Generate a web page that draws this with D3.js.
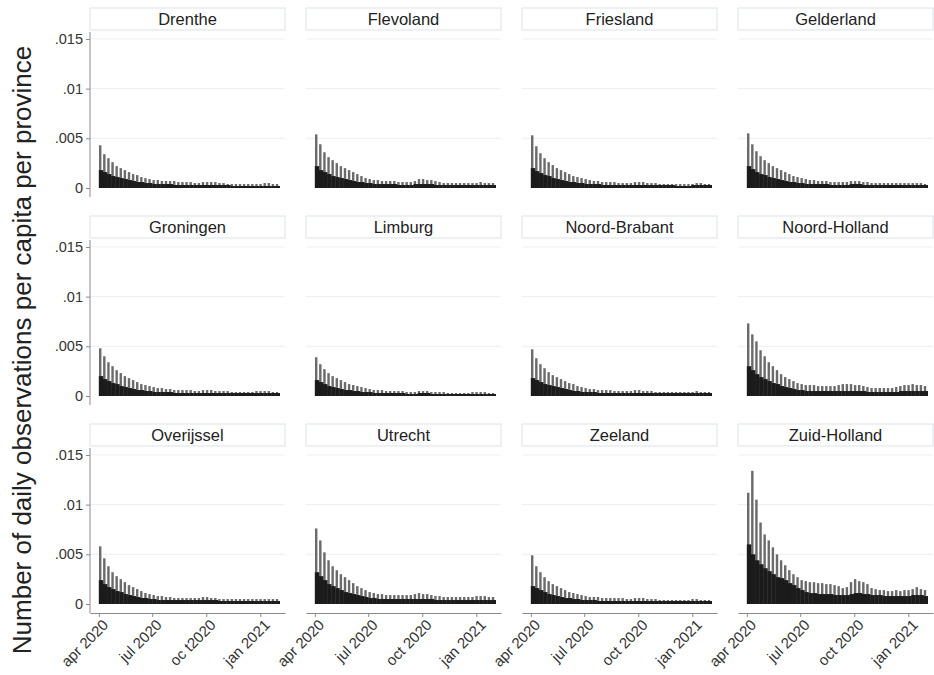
<!DOCTYPE html>
<html>
<head>
<meta charset="utf-8">
<script src="https://cdn.jsdelivr.net/npm/d3@7"></script>
<style>
  body { margin: 0; background: #fff; }
  text { font-family: "Liberation Sans", Arial, sans-serif; }
</style>
</head>
<body>
<script>
// weekly values, in observations per 10,000 inhabitants
// peak = highest day of the week (the thin spikes), base = usual day level (dark area)
const provinces = ["Drenthe", "Flevoland", "Friesland", "Gelderland",
                   "Groningen", "Limburg", "Noord-Brabant", "Noord-Holland",
                   "Overijssel", "Utrecht", "Zeeland", "Zuid-Holland"];

const firstWeek = "2020-04-01";

const drenthePeak = [43,34,30,26,22,20,18,16,14,13,11,10,9,8,8,7,7,7,7,6,6,6,6,5,5,6,6,6,6,5,5,4,4,4,4,4,4,4,4,4,5,5,4,4];
const drentheBase = [18,16,14,12,11,10,9,8,7,6,6,5,5,4,4,4,4,4,3,3,3,3,3,3,3,3,3,3,3,3,3,3,2,2,2,2,2,2,2,2,2,2,2,2];

const flevolandPeak = [54,44,36,31,28,25,22,20,18,16,14,12,10,9,8,8,7,7,7,7,6,6,6,6,7,9,9,8,8,7,6,5,5,5,5,5,5,5,5,5,6,5,5,5];
const flevolandBase = [22,18,16,14,12,11,10,9,8,7,6,6,5,5,4,4,4,4,4,4,3,3,3,3,4,4,4,4,4,3,3,3,3,3,3,3,3,3,3,3,3,3,3,3];

const frieslandPeak = [53,42,35,30,26,23,20,18,16,14,12,11,10,9,8,7,7,6,6,6,6,5,5,5,5,6,6,6,5,5,5,4,4,4,4,4,4,4,4,4,5,5,4,4];
const frieslandBase = [20,17,15,13,12,10,9,8,7,6,6,5,5,4,4,4,4,3,3,3,3,3,3,3,3,3,3,3,3,3,3,3,3,3,3,2,2,2,2,3,3,3,3,3];

const gelderlandPeak = [55,44,37,32,28,25,22,20,18,16,14,12,11,10,9,8,8,7,7,7,6,6,6,6,6,7,7,7,6,6,5,5,5,5,5,5,5,5,5,5,5,5,5,4];
const gelderlandBase = [22,19,16,14,13,11,10,9,8,7,6,6,5,5,4,4,4,4,4,4,3,3,3,3,3,4,4,4,3,3,3,3,3,3,3,3,3,3,3,3,3,3,3,3];

const groningenPeak = [48,40,34,30,26,23,20,18,16,14,12,11,10,9,8,8,7,7,6,6,6,6,6,5,5,6,6,6,5,5,5,5,4,4,4,4,4,4,5,5,5,5,4,4];
const groningenBase = [20,17,15,13,12,10,9,8,7,6,6,5,5,4,4,4,4,4,3,3,3,3,3,3,3,3,3,3,3,3,3,3,3,3,3,3,3,3,3,3,3,3,3,3];

const limburgPeak = [39,32,27,23,20,18,16,14,12,11,10,9,8,7,6,6,6,5,5,5,5,5,4,4,4,5,5,5,4,4,4,4,3,3,3,3,3,3,4,4,4,4,3,3];
const limburgBase = [16,14,12,10,9,8,7,6,6,5,5,4,4,4,3,3,3,3,3,3,3,3,2,2,2,3,3,3,2,2,2,2,2,2,2,2,2,2,2,2,2,2,2,2];

const noordBrabantPeak = [47,38,32,28,24,21,19,17,15,13,12,10,9,8,7,7,6,6,6,6,5,5,5,5,5,6,6,5,5,5,4,4,4,4,4,4,4,4,4,4,5,4,4,4];
const noordBrabantBase = [18,16,14,12,11,10,9,8,7,6,5,5,4,4,4,4,3,3,3,3,3,3,3,3,3,3,3,3,3,3,3,3,3,3,3,3,3,3,3,3,3,3,3,3];

const noordHollandPeak = [73,62,55,46,40,34,30,26,22,19,17,15,13,12,11,11,11,10,10,10,10,10,11,12,12,12,11,11,10,9,8,8,8,8,8,8,9,10,11,11,12,11,11,10];
const noordHollandBase = [30,26,22,19,17,15,13,12,10,9,8,7,6,6,5,5,5,5,5,5,5,5,5,5,5,5,5,5,5,4,4,4,4,4,4,4,4,5,5,5,5,5,5,5];

const overijsselPeak = [58,46,38,32,28,25,22,19,17,15,13,11,10,9,8,8,7,7,6,6,6,6,6,6,6,7,7,6,6,5,5,5,5,5,5,5,5,5,5,5,5,5,5,5];
const overijsselBase = [24,20,17,15,13,12,10,9,8,7,6,6,5,5,4,4,4,4,4,4,4,4,4,4,4,4,4,4,4,3,3,3,3,3,3,3,3,3,3,3,3,3,3,3];

const utrechtPeak = [76,64,52,44,38,34,30,27,24,21,18,16,14,12,11,10,10,9,9,9,9,9,9,9,10,11,10,10,9,8,8,7,7,7,7,7,7,7,7,8,8,8,7,7];
const utrechtBase = [32,28,24,20,18,16,14,12,11,10,9,8,7,6,6,5,5,5,5,5,5,5,5,5,5,5,5,5,5,4,4,4,4,4,4,4,4,4,4,4,4,4,4,4];

const zeelandPeak = [49,38,32,27,23,20,18,16,14,12,11,10,9,8,7,7,7,6,6,6,6,6,6,5,5,6,6,6,5,5,5,4,4,4,4,4,4,4,4,5,5,4,4,4];
const zeelandBase = [18,16,14,12,10,9,8,7,6,6,5,5,4,4,4,4,3,3,3,3,3,3,3,3,3,3,3,3,3,3,3,3,3,3,3,3,3,3,3,3,3,3,3,3];

const zuidHollandPeak = [112,134,105,82,70,64,57,50,44,39,34,30,27,24,23,22,22,21,21,20,20,19,18,16,17,22,25,23,22,20,16,15,14,14,13,13,14,13,14,14,15,17,15,14];
const zuidHollandBase = [60,50,44,40,36,33,30,27,26,24,21,19,16,14,12,11,11,10,10,10,10,9,9,9,9,10,11,11,10,10,9,9,9,8,8,8,8,8,8,8,9,9,9,8];

const yTicks = [0, 50, 100, 150];
const yTickLabels = ["0", ".005", ".01", ".015"];
const xTickDates = ["2020-04-01", "2020-07-01", "2020-10-01", "2021-01-01"];
const xTickLabels = ["apr 2020", "jul 2020", "oct 2020", "jan 2021"];
const xTickLabelsFirst = ["apr 2020", "jul 2020", "oc t2020", "jan 2021"];

const series = [
  [drenthePeak, drentheBase], [flevolandPeak, flevolandBase],
  [frieslandPeak, frieslandBase], [gelderlandPeak, gelderlandBase],
  [groningenPeak, groningenBase], [limburgPeak, limburgBase],
  [noordBrabantPeak, noordBrabantBase], [noordHollandPeak, noordHollandBase],
  [overijsselPeak, overijsselBase], [utrechtPeak, utrechtBase],
  [zeelandPeak, zeelandBase], [zuidHollandPeak, zuidHollandBase]
];

const width = 934, height = 675;
const colLeft = [90, 306, 522, 738];
const rowTop = [8, 216, 424];
const panelW = 195;

const parse = d3.timeParse("%Y-%m-%d");
const weeks = d3.range(drenthePeak.length).map(i => d3.timeDay.offset(parse(firstWeek), i * 7));

const x = d3.scaleTime()
            .domain([parse("2020-03-17"), parse("2021-02-12")])
            .range([0, panelW]);

const y = d3.scaleLinear()
            .domain([0, 157])
            .range([180, 24]);

const svg = d3.select("body").append("svg")
              .attr("width", width)
              .attr("height", height);

provinces.forEach((prov, i) => {
  const col = i % 4, row = Math.floor(i / 4);
  const g = svg.append("g").attr("transform", `translate(${colLeft[col]},${rowTop[row]})`);
  const [pk, bs] = series[i];

  // strip
  g.append("rect")
   .attr("x", 0).attr("y", 0)
   .attr("width", panelW).attr("height", 22)
   .attr("fill", "#fff")
   .attr("stroke", "#dde3e8");
  g.append("text")
   .attr("x", panelW / 2).attr("y", 17)
   .attr("text-anchor", "middle")
   .attr("font-size", 16.5)
   .attr("fill", "#222")
   .text(prov);

  // grid
  g.selectAll(".grid").data(yTicks.slice(1)).join("line")
   .attr("x1", 0).attr("x2", panelW)
   .attr("y1", d => y(d)).attr("y2", d => y(d))
   .attr("stroke", "#eceff1");

  // spikes first, dark weekly level on top
  g.selectAll(".pk").data(weeks).join("rect")
   .attr("x", d => x(d) + 0.2)
   .attr("width", 2.4)
   .attr("y", (d, j) => y(pk[j]))
   .attr("height", (d, j) => y(0) - y(pk[j]))
   .attr("fill", "#6a6a6a");

  g.selectAll(".bs").data(weeks).join("rect")
   .attr("x", d => x(d))
   .attr("width", d => x(d3.timeDay.offset(d, 7)) - x(d) + 0.3)
   .attr("y", (d, j) => y(bs[j]))
   .attr("height", (d, j) => y(0) - y(bs[j]))
   .attr("fill", "#1b1b1b");

  if (col === 0) {
    const ya = g.append("g")
      .call(d3.axisLeft(y).tickValues(yTicks).tickFormat((d, k) => yTickLabels[k]).tickSize(4).tickSizeOuter(0));
    ya.select(".domain").attr("stroke", "#8a8a8a").attr("d", "M0,24V189");
    ya.selectAll(".tick line").attr("stroke", "#8a8a8a");
    ya.selectAll(".tick text").attr("font-size", 14.5).attr("fill", "#333")
      .attr("font-family", "Liberation Sans, Arial, sans-serif");
  }

  if (row === 2) {
    const labels = col === 0 ? xTickLabelsFirst : xTickLabels;
    const xa = g.append("g").attr("transform", "translate(0,189)")
      .call(d3.axisBottom(x).tickValues(xTickDates.map(parse)).tickFormat((d, k) => labels[k]).tickSize(4).tickSizeOuter(0));
    xa.select(".domain").attr("stroke", "#8a8a8a");
    xa.selectAll(".tick line").attr("stroke", "#8a8a8a");
    xa.selectAll(".tick text")
      .attr("font-size", 15).attr("fill", "#333")
      .attr("font-family", "Liberation Sans, Arial, sans-serif")
      .attr("text-anchor", "end")
      .attr("dy", 0)
      .attr("transform", "translate(5,8) rotate(-45)");
  }
});

svg.append("text")
   .attr("transform", "translate(31,350) rotate(-90)")
   .attr("text-anchor", "middle")
   .attr("font-size", 26)
   .attr("fill", "#222")
   .text("Number of daily observations per capita per province");
</script>
</body>
</html>
